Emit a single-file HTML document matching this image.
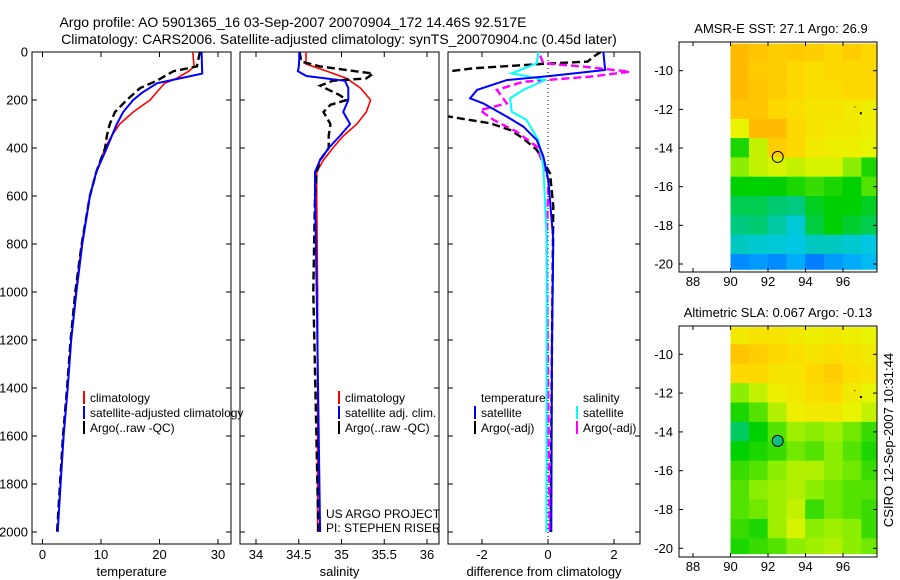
<!DOCTYPE html>
<html><head><meta charset="utf-8"><style>
body{margin:0;background:#fff;}
svg{display:block;font-family:"Liberation Sans",sans-serif;}
</style></head><body>
<svg id="fig" width="900" height="580" viewBox="0 0 900 580">
<text x="293" y="27" font-size="14" text-anchor="middle">Argo profile: AO 5901365_16 03-Sep-2007 20070904_172 14.46S 92.517E</text>
<text x="339" y="44" font-size="14" text-anchor="middle">Climatology: CARS2006. Satellite-adjusted climatology: synTS_20070904.nc (0.45d later)</text>
<text x="781" y="33" font-size="13" text-anchor="middle">AMSR-E SST: 27.1 Argo: 26.9</text>
<text x="778" y="317" font-size="13" text-anchor="middle">Altimetric SLA: 0.067 Argo: -0.13</text>
<text transform="translate(893,440) rotate(-90)" font-size="13" text-anchor="middle">CSIRO 12-Sep-2007 10:31:44</text>
<g id="g"></g>
</svg>
<script>
// ---- data ----
const tDepthClim=[0,60,80,110,130,160,200,250,300,350,400,500,600,800,1000,1200,1400,1600,1800,2000];
const tClim=[25.7,25.9,25,22.9,20.9,19.8,18.4,15.5,13.2,11.8,10.7,9.2,8.1,6.7,5.7,4.9,4.3,3.6,3.1,2.6];
const tDepthSat=[0,90,110,130,170,200,250,300,400,500,600,800,1000,1200,1400,1600,1800,2000];
const tSat=[27.2,27.3,23.5,19.6,17,15.5,13.8,12.7,11,9.2,8.1,6.8,5.8,4.9,4.3,3.6,3.1,2.6];
const tDepthArgo=[0,60,80,120,150,200,250,300,350,400,500,600,800,1000,1200,1400,1600,1800,2000];
const tArgo=[26.9,26.4,22.4,19.5,16.7,14.4,12.4,11.5,11,10.7,9.2,8.1,6.7,5.6,4.8,4.2,3.5,3.0,2.5];
const sDepthClim=[0,50,80,110,150,200,250,300,350,400,450,500,600,1000,1500,2000];
const sClim=[34.585,34.585,34.83,35.06,35.22,35.34,35.29,35.18,35.02,34.9,34.79,34.71,34.71,34.72,34.72,34.72];
const sDepthSat=[0,60,80,100,120,150,200,250,300,350,400,450,500,600,800,1000,1500,2000];
const sSat=[34.51,34.5,34.49,34.59,35.04,35.08,35.08,35.02,35.1,34.98,34.85,34.75,34.69,34.69,34.7,34.71,34.73,34.75];
const sDepthArgo=[0,40,60,90,110,120,140,180,200,220,250,300,350,400,450,500,600,1000,1500,2000];
const sArgo=[34.51,34.53,34.75,35.37,35.29,34.9,34.75,34.98,35.06,34.87,34.79,34.87,34.85,34.85,34.75,34.71,34.69,34.67,34.7,34.73];
const dDepthTSat=[0,75,100,117,158,193,214,269,311,367,436,533,783,1200,2000];
const dTSat=[1.68,1.73,0.06,-1.25,-2.15,-2.36,-1.96,-1.25,-0.75,-0.34,-0.14,0.01,0.16,0.12,0.1];
const dDepthTArgo=[0,19,40,50,68,82,100,250,269,297,325,360,408,505,644,1200,2000];
const dTArgo=[1.6,1.38,1.2,-0.24,-2.26,-3.1,-3.6,-3.6,-3.0,-1.75,-1.15,-0.75,-0.34,0.06,0.16,0.12,0.08];
const dDepthSSat=[0,47,89,103,117,158,193,249,283,367,478,783,2000];
const dSSat=[-0.29,-0.34,-1.1,-0.55,-0.09,-0.75,-1.15,-1.1,-0.65,-0.29,-0.14,-0.04,-0.05];
const dDepthSArgo=[15,47,61,82,103,124,158,214,242,283,332,394,533,800,2000];
const dSArgo=[-0.24,-0.14,1.07,2.48,1.27,-0.75,-1.55,-1.25,-2.06,-1.65,-0.95,-0.34,0.01,-0.04,0.05];
const mapLats=[-9,-10,-11,-12,-13,-14,-15,-16,-17,-18,-19,-20];
const mapLons=[90,91,92,93,94,95,96,97];
const sstGrid=[
[0.86,0.84,0.82,0.83,0.82,0.8,0.82,0.8],
[0.86,0.83,0.82,0.8,0.78,0.8,0.8,0.8],
[0.86,0.84,0.82,0.8,0.78,0.78,0.8,0.8],
[0.84,0.84,0.8,0.78,0.76,0.76,0.74,0.72],
[0.7,0.86,0.86,0.8,0.76,0.74,0.74,0.72],
[0.52,0.66,0.82,0.8,0.74,0.72,0.72,0.7],
[0.6,0.66,0.68,0.66,0.68,0.68,0.6,0.52],
[0.5,0.5,0.5,0.52,0.54,0.52,0.5,0.56],
[0.45,0.45,0.43,0.42,0.48,0.5,0.5,0.48],
[0.42,0.43,0.4,0.32,0.46,0.5,0.47,0.45],
[0.35,0.33,0.32,0.3,0.35,0.35,0.33,0.3],
[0.15,0.18,0.15,0.22,0.12,0.18,0.22,0.25]];
const slaGrid=[
[0.74,0.76,0.76,0.74,0.72,0.74,0.72,0.7],
[0.84,0.82,0.8,0.78,0.76,0.78,0.76,0.74],
[0.8,0.8,0.76,0.76,0.8,0.82,0.78,0.76],
[0.6,0.66,0.72,0.74,0.78,0.8,0.74,0.7],
[0.52,0.56,0.64,0.72,0.74,0.74,0.7,0.66],
[0.44,0.5,0.56,0.62,0.6,0.62,0.58,0.54],
[0.5,0.52,0.54,0.58,0.56,0.6,0.56,0.52],
[0.54,0.56,0.6,0.64,0.64,0.6,0.58,0.54],
[0.56,0.6,0.62,0.64,0.6,0.58,0.56,0.56],
[0.56,0.58,0.62,0.66,0.54,0.58,0.56,0.54],
[0.54,0.52,0.62,0.68,0.6,0.62,0.6,0.54],
[0.52,0.54,0.56,0.6,0.62,0.64,0.6,0.58]];
const depthTicks=[0,200,400,600,800,1000,1200,1400,1600,1800,2000];
const tempTicks=[0,10,20,30];
const salTicks=[34,34.5,35,35.5,36];
const diffTicks=[-2,0,2];
const latTicks=[-10,-12,-14,-16,-18,-20];
const lonTicks=[88,90,92,94,96];
const argoLon=92.517, argoLat=-14.46;

// ---- helpers ----
const NS="http://www.w3.org/2000/svg";
const root=document.getElementById('g');
function mk(tag,attrs,parent){const e=document.createElementNS(NS,tag);for(const k in attrs)e.setAttribute(k,attrs[k]);(parent||root).appendChild(e);return e;}
const TOP=52, BOT=544;
const yD=d=>TOP+d*0.24;
const panels=[
 {x0:32,x1:231,sx:v=>42.5+v*5.85,name:'temperature-panel',xl:'temperature',ticks:tempTicks},
 {x0:240,x1:439,sx:v=>256+(v-34)*85.5,name:'salinity-panel',xl:'salinity',ticks:salTicks},
 {x0:448,x1:640,sx:v=>548+v*33,name:'difference-panel',xl:'difference from climatology',ticks:diffTicks}];
panels.forEach((p,i)=>{
  const g=mk('g',{});
  
  
  const cp=mk('clipPath',{id:'cp'+i},g);mk('rect',{x:p.x0,y:TOP,width:p.x1-p.x0,height:BOT-TOP},cp);
  const fr=mk('rect',{x:p.x0,y:TOP,width:p.x1-p.x0,height:BOT-TOP,fill:'none',stroke:'#000','stroke-width':1},g);
  
  
  depthTicks.forEach(d=>{
    mk('line',{x1:p.x0,x2:p.x0+5,y1:yD(d),y2:yD(d),stroke:'#000'},g);
    mk('line',{x1:p.x1,x2:p.x1-5,y1:yD(d),y2:yD(d),stroke:'#000'},g);
    if(i===0){const t=mk('text',{x:28,y:yD(d)+4.5,'font-size':13,'text-anchor':'end'},g);t.textContent=d;
      
      }
  });
  p.ticks.forEach(v=>{const x=p.sx(v);
    mk('line',{x1:x,x2:x,y1:BOT,y2:BOT-5,stroke:'#000'},g);
    mk('line',{x1:x,x2:x,y1:TOP,y2:TOP+5,stroke:'#000'},g);
    const t=mk('text',{x:x,y:559,'font-size':13,'text-anchor':'middle'},g);t.textContent=v;
    
    });
  const xl=mk('text',{x:(p.x0+p.x1)/2,y:576,'font-size':13,'text-anchor':'middle'},g);xl.textContent=p.xl;
  
  
  p.g=mk('g',{'clip-path':'url(#cp'+i+')'},g);
});
function series(pi,depths,vals,color,dash,name,w){
  const p=panels[pi];
  const pts=depths.map((d,k)=>p.sx(vals[k]).toFixed(1)+','+yD(d).toFixed(1)).join(' ');
  const e=mk('polyline',{points:pts,fill:'none',stroke:color,'stroke-width':w||2,'stroke-dasharray':dash||'none'},p.g);
  
  
}
series(0,tDepthClim,tClim,'#f00',null,'temp-climatology-line',1.6);
series(0,tDepthArgo,tArgo,'#000','8,4','temp-argo-line',2.4);
series(0,tDepthSat,tSat,'#00f',null,'temp-satellite-line',2);
series(1,sDepthClim,sClim,'#f00',null,'sal-climatology-line',1.6);
series(1,sDepthArgo,sArgo,'#000','8,4','sal-argo-line',2.4);
series(1,sDepthSat,sSat,'#00f',null,'sal-satellite-line',2);
const zl=mk('line',{x1:548,x2:548,y1:TOP,y2:BOT,stroke:'#000','stroke-dasharray':'1,3'},panels[2].g);


series(2,dDepthTArgo,dTArgo,'#000','8,4','diff-temp-argo-line',2.4);
series(2,dDepthSArgo,dSArgo,'#f0f','8,4','diff-sal-argo-line',2.4);
series(2,dDepthSSat,dSSat,'#0ff',null,'diff-sal-satellite-line',2);
series(2,dDepthTSat,dTSat,'#00f',null,'diff-temp-satellite-line',2);

function legend(x,y,items,name){
  const g=mk('g',{});
  
  
  items.forEach((it,k)=>{const yy=y+k*15;
    if(it[1])mk('rect',{x:x-7,y:yy-11,width:2,height:13,fill:it[1]},g);
    const t=mk('text',{x:x,y:yy,'font-size':12},g);t.textContent=it[0];});
}
legend(90,402,[['climatology','#f00'],['satellite-adjusted climatology','#00f'],['Argo(..raw -QC)','#000']],'temp-legend');
legend(345,402,[['climatology','#f00'],['satellite adj. clim.','#00f'],['Argo(..raw -QC)','#000']],'sal-legend');
legend(481,402,[['temperature',null],['satellite','#00f'],['Argo(-adj)','#000']],'diff-temp-legend');
legend(583,402,[['salinity',null],['satellite','#0ff'],['Argo(-adj)','#f0f']],'diff-sal-legend');
const pi1=mk('text',{x:326,y:518,'font-size':12});pi1.textContent='US ARGO PROJECT';


const pi2=mk('text',{x:326,y:532,'font-size':12});pi2.textContent='PI: STEPHEN RISER';



// ---- maps ----
const stops=[[0,[0,70,255]],[0.15,[0,140,255]],[0.28,[0,200,240]],[0.4,[0,200,160]],[0.5,[0,208,0]],[0.6,[140,238,0]],[0.7,[232,244,0]],[0.8,[255,216,0]],[0.9,[255,168,0]],[1,[255,120,0]]];
function cmap(v){for(let k=1;k<stops.length;k++){if(v<=stops[k][0]){const a=stops[k-1],b=stops[k],f=(v-a[0])/(b[0]-a[0]);
  return 'rgb('+a[1].map((c,j)=>Math.round(c+(b[1][j]-c)*f)).join(',')+')';}}return 'rgb(255,120,0)';}
function drawMap(grid,top,bot,lat10y,lat20y,name,filled){
  const g=mk('g',{});
  
  
  const x0=679,x1=877;
  const sx=l=>693+(l-88)*18.75;
  const sy=la=>lat10y+(la+10)*(lat10y-lat20y)/10;
  const cp=mk('clipPath',{id:'mc'+name},g);mk('rect',{x:sx(90),y:sy(-8.6),width:x1-sx(90),height:sy(-20.3)-sy(-8.6)},cp);
  const cg=mk('g',{'clip-path':'url(#mc'+name+')'},g);
  mapLats.forEach((la,r)=>mapLons.forEach((lo,c)=>{
    const cell=mk('rect',{x:sx(lo)-0.3,y:sy(la+0.5)-0.3,width:18.75+0.6,height:(sy(la-0.5)-sy(la+0.5))+0.6,fill:cmap(grid[r][c])},cg);
    
    
  }));
  mapLons.forEach((lo,c)=>{mk('rect',{x:sx(lo)-0.3,y:sy(-8),width:19.4,height:sy(-8.5)-sy(-8)+0.5,fill:cmap(grid[0][c])},cg);});
  mk('rect',{x:x0,y:top,width:x1-x0,height:bot-top,fill:'none',stroke:'#000'},g);
  latTicks.forEach(la=>{const y=sy(la);mk('line',{x1:x0,x2:x0+4,y1:y,y2:y,stroke:'#000'},g);mk('line',{x1:x1,x2:x1-4,y1:y,y2:y,stroke:'#000'},g);
    const t=mk('text',{x:673,y:y+4.5,'font-size':13,'text-anchor':'end'},g);t.textContent=la;
    
    });
  lonTicks.forEach(lo=>{const x=sx(lo);mk('line',{x1:x,x2:x,y1:top,y2:top+4,stroke:'#000'},g);mk('line',{x1:x,x2:x,y1:bot,y2:bot-4,stroke:'#000'},g);
    const t=mk('text',{x:x,y:bot+14,'font-size':13,'text-anchor':'middle'},g);t.textContent=lo;
    
    });
  const c=mk('circle',{cx:sx(argoLon),cy:sy(argoLat),r:5.5,fill:filled||'none',stroke:'#000','stroke-width':1},g);
  
  
  mk('rect',{x:sx(96.9),y:sy(-12.15),width:2,height:2,fill:'#000'},g);
  mk('rect',{x:sx(96.6),y:sy(-11.85),width:1,height:1,fill:'#000'},g);
}
drawMap(sstGrid,42,272,70.7,264,'sst-map',null);
drawMap(slaGrid,326,557,354.3,548.3,'sla-map','#10c080');
</script>
</body></html>
